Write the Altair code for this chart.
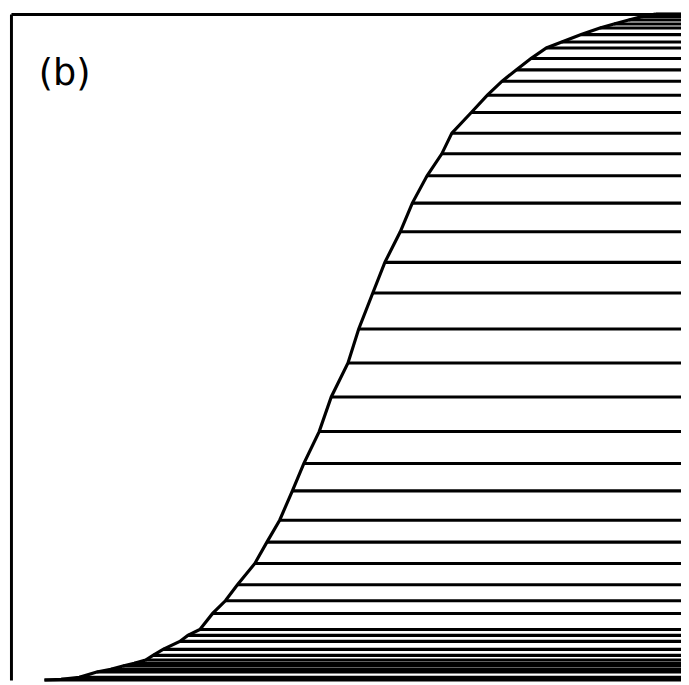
import altair as alt
import pandas as pd

# Points of the S-shaped curve.
# x: horizontal position (0-100 across the frame), y: cumulative fraction (0-1).
x_vals = [5.0, 7.5, 10.2, 12.8, 14.9, 16.7, 18.4, 20.1, 21.2, 22.7, 25.2, 26.4,
          28.2, 30.1, 32.0, 33.8, 36.4, 38.2, 40.1, 42.0, 43.7, 46.0, 47.8, 50.3,
          51.9, 54.0, 55.8, 58.1, 59.9, 62.1, 64.3, 65.8, 68.7, 71.1, 73.3, 75.4,
          77.6, 79.9, 82.2, 85.1, 87.9, 90.0, 92.2, 94.2, 96.2]
y_vals = [0.000, 0.001, 0.004, 0.012, 0.016, 0.021, 0.025, 0.030, 0.037, 0.046,
          0.058, 0.067, 0.076, 0.100, 0.119, 0.143, 0.175, 0.207, 0.240, 0.284,
          0.325, 0.373, 0.425, 0.476, 0.527, 0.581, 0.627, 0.673, 0.716, 0.757,
          0.790, 0.821, 0.852, 0.878, 0.899, 0.916, 0.933, 0.949, 0.958, 0.969,
          0.979, 0.985, 0.991, 0.996, 1.000]
X_MAX = 100
Y_MAX = 1.0
panel_label = "(b)"
label_x = 8.0
label_y = 0.91

df = pd.DataFrame({"x": x_vals, "y": y_vals})
df["x_end"] = X_MAX

xscale = alt.Scale(domain=[0, X_MAX], nice=False, zero=False)
yscale = alt.Scale(domain=[0, Y_MAX], nice=False, zero=False)
xaxis = alt.Axis(orient="top", ticks=False, labels=False, grid=False, title="",
                 domainColor="black", domainWidth=3)
yaxis = alt.Axis(orient="left", ticks=False, labels=False, grid=False, title="",
                 domainColor="black", domainWidth=3)

base = alt.Chart(df)

rules = base.mark_rule(color="black", strokeWidth=3.1).encode(
    x=alt.X("x:Q", scale=xscale, axis=xaxis),
    x2="x_end:Q",
    y=alt.Y("y:Q", scale=yscale, axis=yaxis),
)

curve = base.mark_line(color="black", strokeWidth=3.2, interpolate="linear").encode(
    x=alt.X("x:Q", scale=xscale, axis=xaxis),
    y=alt.Y("y:Q", scale=yscale, axis=yaxis),
    order="x:Q",
)

label_df = pd.DataFrame({"x": [label_x], "y": [label_y], "t": [panel_label]})
label = alt.Chart(label_df).mark_text(
    font="DejaVu Sans", fontSize=37, color="black", align="center",
    baseline="middle"
).encode(
    x=alt.X("x:Q", scale=xscale, axis=xaxis),
    y=alt.Y("y:Q", scale=yscale, axis=yaxis),
    text="t:N",
)

chart = alt.layer(rules, curve, label).properties(
    width=678, height=674,
    padding={"left": 3, "top": 2, "right": 0, "bottom": 0},
    autosize="none",
    background="white",
).configure_view(strokeWidth=0)

chart.save("out.html", embed_options={"renderer": "svg", "actions": False})
